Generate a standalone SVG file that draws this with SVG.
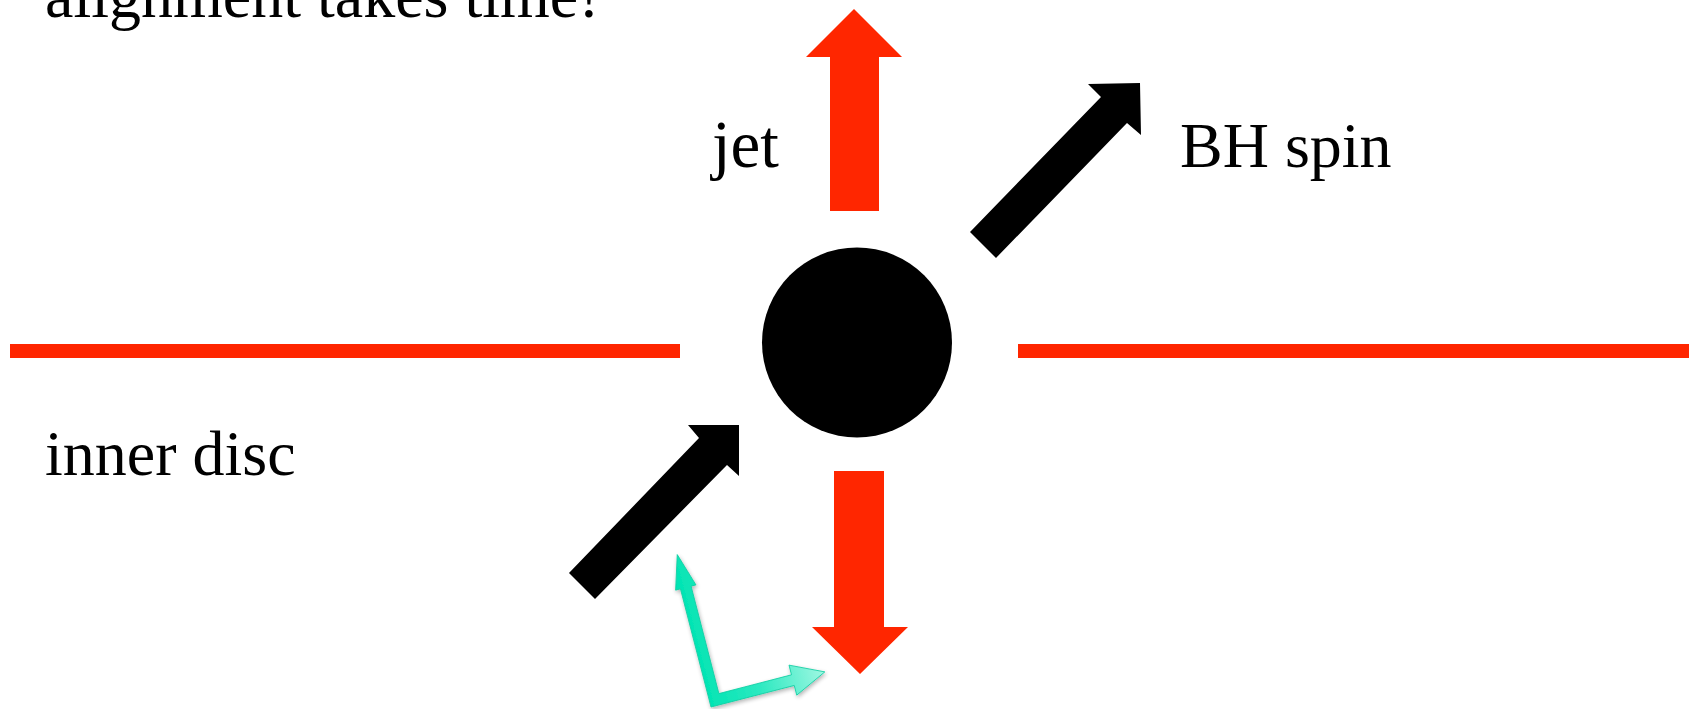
<svg xmlns="http://www.w3.org/2000/svg" width="1689" height="709" viewBox="0 0 1689 709">
<defs>
<style>
.lbl{font-family:"Liberation Serif","Times New Roman",serif;font-size:64px;fill:#000}
.red{fill:#ff2600}
.blk{fill:#000}
</style>
<linearGradient id="gr" x1="0" y1="0" x2="1" y2="0" gradientUnits="objectBoundingBox">
<stop offset="0" stop-color="#00e4b3"/>
<stop offset="0.45" stop-color="#2ae9c0"/>
<stop offset="1" stop-color="#a0f7e2"/>
</linearGradient>
<filter id="sh" x="-20%" y="-20%" width="140%" height="140%">
<feGaussianBlur in="SourceAlpha" stdDeviation="2"/>
<feOffset dx="1" dy="2" result="b"/>
<feComponentTransfer><feFuncA type="linear" slope="0.3"/></feComponentTransfer>
<feMerge><feMergeNode/><feMergeNode in="SourceGraphic"/></feMerge>
</filter>
</defs>
<rect width="1689" height="709" fill="#fff"/>
<g id="title"><text class="lbl" x="45" y="17">alignment takes time!</text></g>
<g id="disc">
<rect class="red" x="10" y="344" width="670" height="14"/>
<rect class="red" x="1018" y="344" width="671" height="14"/>
</g>
<g id="bh"><circle class="blk" cx="857" cy="342.5" r="95"/></g>
<g id="jet-up"><polygon class="red" points="854,9 902,57 879,57 879,211 830,211 830,57 806,57"/></g>
<g id="jet-down"><polygon class="red" points="860,674 908,627 884,627 884,471 834,471 834,627 812,627"/></g>
<g id="spin"><polygon class="blk" points="970,232 1101,97 1088,84 1140,83 1141,135 1127,123 996,258"/></g>
<g id="inner-spin"><polygon class="blk" points="569,573 699,438 688,425 739,425 739,476 727,465 595,599"/></g>
<g id="axes" filter="url(#sh)">
<polygon transform="translate(711,707) rotate(-14.5)" fill="url(#gr)" stroke="#10cfa3" stroke-width="0.8" points="0,0 0,-122 -5,-122 5.5,-156 16,-122 11,-122 11,-11 86,-11 86,-21 119,-5.5 86,10 86,0"/>
</g>
<g id="labels">
<text class="lbl" x="712" y="167" style="font-size:67px">jet</text>
<text class="lbl" x="1180" y="167">BH spin</text>
<text class="lbl" x="45" y="475">inner disc</text>
</g>
</svg>
